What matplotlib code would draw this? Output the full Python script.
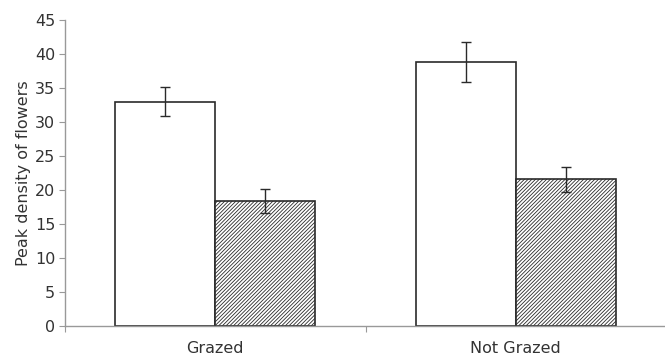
import numpy as np
import matplotlib.pyplot as plt

# data
categories = ["Grazed", "Not Grazed"]
open_means = [33.0, 38.75]
open_err = [2.2, 2.95]
hatched_means = [18.3, 21.55]
hatched_err = [1.75, 1.8]
y_ticks = [0, 5, 10, 15, 20, 25, 30, 35, 40, 45]

plt.rcParams["font.family"] = ["DejaVu Sans"]
plt.rcParams["hatch.linewidth"] = 0.6
plt.rcParams["hatch.color"] = "#555555"

fig = plt.figure(figsize=(6.65, 3.55), dpi=100)
ax = fig.add_axes([65 / 665, 29.3 / 355, 601 / 665, 305.7 / 355])

x = np.arange(len(categories))
width = 1 / 3
edge = "#2a2a2a"
text_color = "#333333"
axis_color = "#999999"

ax.bar(x - width / 2, open_means, width, color="white", edgecolor=edge,
       linewidth=1.2, zorder=2)
ax.bar(x + width / 2, hatched_means, width, color="white", edgecolor=edge,
       linewidth=1.2, hatch="/" * 9, zorder=2)

ax.errorbar(x - width / 2, open_means, yerr=open_err, fmt="none",
            ecolor=edge, elinewidth=1.0, capsize=3.5, capthick=1.0, zorder=3)
ax.errorbar(x + width / 2, hatched_means, yerr=hatched_err, fmt="none",
            ecolor=edge, elinewidth=1.0, capsize=3.5, capthick=1.0, zorder=3)

ax.set_xlim(-0.5, len(categories) - 0.5)
ax.set_ylim(0, 45)
ax.set_yticks(y_ticks)
ax.set_xticks(x)
ax.set_xticklabels(categories)
# category separators as minor ticks (Excel style)
ax.set_xticks(np.arange(len(categories) + 1) - 0.5, minor=True)
ax.tick_params(axis="x", which="major", length=0, pad=11,
               labelsize=11.5, labelcolor=text_color)
ax.tick_params(axis="x", which="minor", length=4, color=axis_color, width=0.8)
ax.tick_params(axis="y", length=4, color=axis_color, width=0.8,
               labelsize=11.5, labelcolor=text_color, pad=3)

for side in ["top", "right"]:
    ax.spines[side].set_visible(False)
for side in ["left", "bottom"]:
    ax.spines[side].set_color(axis_color)
    ax.spines[side].set_linewidth(1.0)

ax.set_ylabel("Peak density of flowers", fontsize=11.5, color=text_color,
              labelpad=3)

fig.savefig("out.png", dpi=100)
